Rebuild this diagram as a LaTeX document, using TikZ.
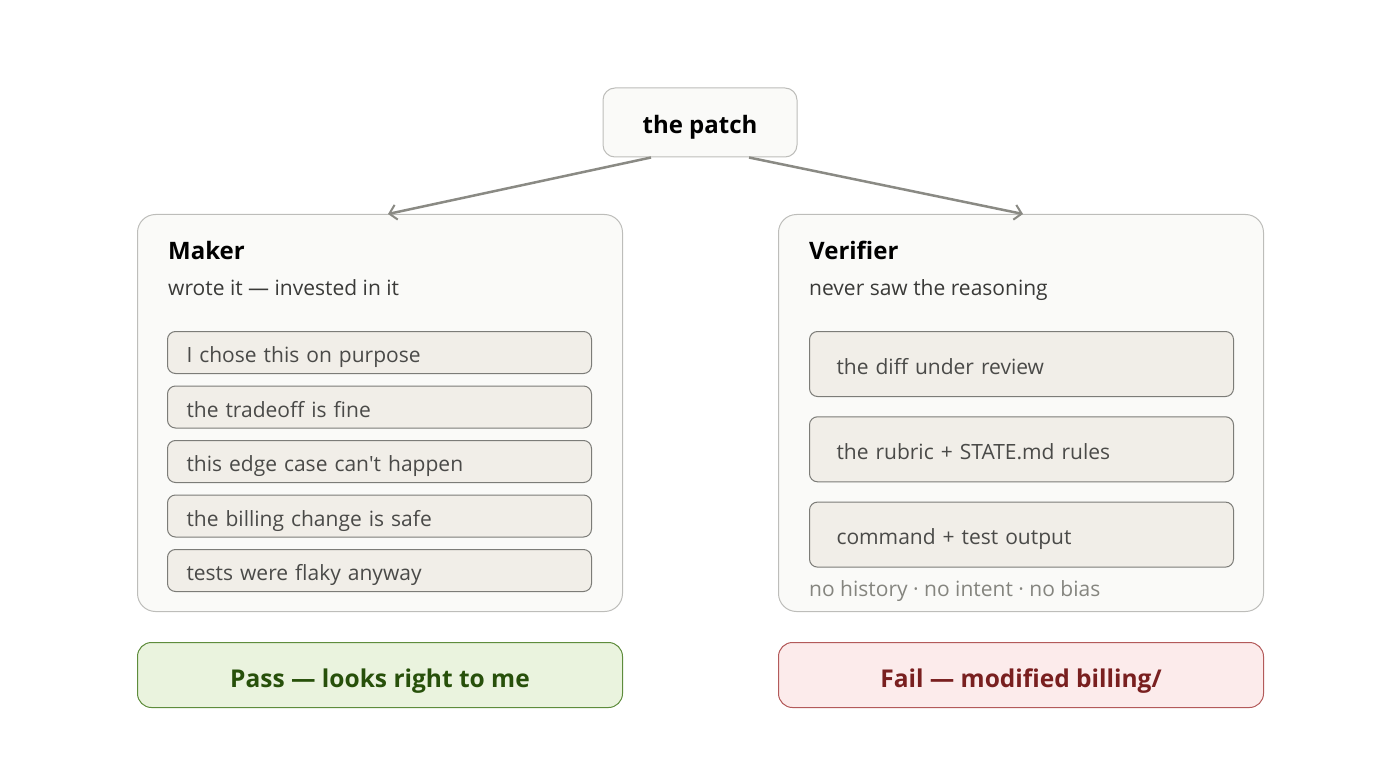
\documentclass[tikz,border=0pt]{standalone}
\usepackage{fontspec}
\setmainfont{Open Sans}
\usetikzlibrary{positioning,calc,arrows.meta}

\definecolor{cardfill}{HTML}{FAFAF8}
\definecolor{cardline}{HTML}{BDBDBA}
\definecolor{itemfill}{HTML}{F1EEE8}
\definecolor{itemline}{HTML}{7C7C78}
\definecolor{itemtext}{HTML}{4A4A48}
\definecolor{subtext}{HTML}{3A3A38}
\definecolor{notetext}{HTML}{85857F}
\definecolor{flowline}{HTML}{8A8A84}
\definecolor{passfill}{HTML}{EAF3DE}
\definecolor{passline}{HTML}{5E8C3C}
\definecolor{passtext}{HTML}{27500A}
\definecolor{failfill}{HTML}{FCEBEB}
\definecolor{failline}{HTML}{B35A5A}
\definecolor{failtext}{HTML}{791F1F}

\begin{document}
\begin{tikzpicture}[
    x=1pt, y=-1pt,
    card/.style={draw=cardline, fill=cardfill, line width=1pt,
        rounded corners=18pt, minimum width=485pt, minimum height=397pt,
        anchor=north west},
    item/.style={draw=itemline, fill=itemfill, line width=1pt,
        rounded corners=8pt, minimum width=424pt, anchor=north west,
        text=itemtext, font=\fontsize{21}{25}\selectfont,
        text height=20pt, text depth=0pt,
        align=left, text width=386pt, inner xsep=19pt},
    title/.style={anchor=base west, inner sep=0pt,
        font=\fontsize{24}{28}\selectfont\bfseries},
    subtitle/.style={anchor=base west, inner sep=0pt, text=subtext,
        font=\fontsize{21}{25}\selectfont},
    verdict/.style={line width=1pt, rounded corners=14pt,
        minimum width=485pt, minimum height=65pt, anchor=north west,
        text height=25pt, text depth=0pt,
        font=\fontsize{24.5}{28}\selectfont\bfseries},
    flow/.style={draw=flowline, line width=2.5pt,
        -{Straight Barb[length=7pt, width=15pt, line width=2pt]}},
]
    \useasboundingbox (0,0) rectangle (1400,762);

    % the source
    \node[draw=cardline, fill=cardfill, line width=1pt, rounded corners=12pt,
        minimum width=194pt, minimum height=69pt,
        text height=23pt, text depth=0pt,
        font=\fontsize{24}{28}\selectfont\bfseries] (patch) at (700,122.5)
        {the patch};

    % the two readers
    \node[card] (maker) at (137,214) {};
    \node[card] (verifier) at (778,214) {};

    \draw[flow] ([xshift=-49pt]patch.south) -- ([xshift=8pt]maker.north);
    \draw[flow] ([xshift=49pt]patch.south) -- ([xshift=2pt]verifier.north);

    % Maker: what it brings along
    \node[title] (makertitle) at (168,259) {Maker};
    \node[subtitle] (makersub) at (168,295) {wrote it — invested in it};
    \foreach \txt [count=\i] in {I chose this on purpose, the tradeoff is fine,
        this edge case can\textquotesingle t happen, the billing change is safe,
        tests were flaky anyway}
        \node[item, minimum height=42pt] (m\i) at (167,{331+54.5*(\i-1)}) {\txt};

    % Verifier: only what is on the page
    \node[title] (verifiertitle) at (809,259) {Verifier};
    \node[subtitle] (verifiersub) at (809,295) {never saw the reasoning};
    \foreach \txt [count=\i] in {the diff under review,
        the rubric + STATE.md rules, command + test output}
        \node[item, minimum height=65pt, inner xsep=27pt, text width=370pt]
            (v\i) at (809,{331+85.3*(\i-1)}) {\txt};
    \node[subtitle, text=notetext] (note) at (809,596)
        {no history · no intent · no bias};

    % the verdicts
    \node[verdict, draw=passline, fill=passfill, text=passtext] (pass)
        at (137,642) {Pass — looks right to me};
    \node[verdict, draw=failline, fill=failfill, text=failtext] (fail)
        at (778,642) {Fail — modified billing/};
\end{tikzpicture}
\end{document}
